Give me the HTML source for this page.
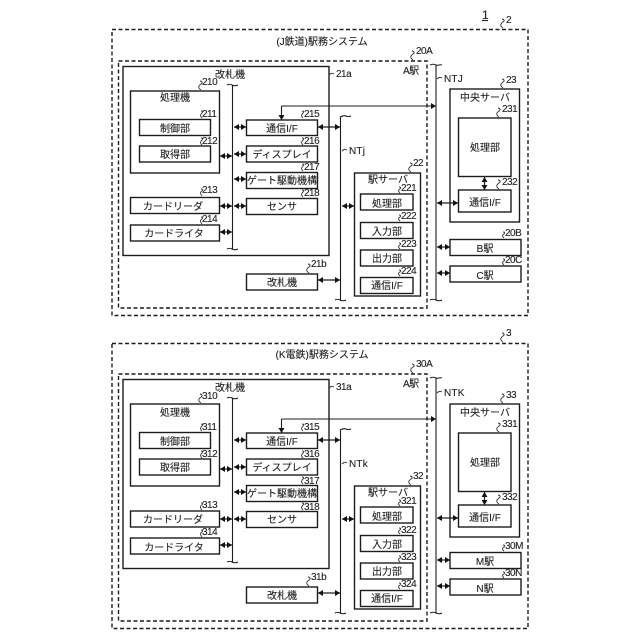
<!DOCTYPE html>
<html><head><meta charset="utf-8"><style>
html,body{margin:0;padding:0;background:#fff}
svg{display:block}
text{font-family:"Liberation Sans","Noto Sans CJK JP",sans-serif;fill:#222;stroke:#222;stroke-width:.12}
.b{fill:none;stroke:#1c1c1c;stroke-width:1.4}
.d{fill:none;stroke:#1c1c1c;stroke-width:1.4;stroke-dasharray:4 2.5}
.l{fill:none;stroke:#1c1c1c;stroke-width:1.1}
.a{fill:none;stroke:#1c1c1c;stroke-width:1.2;marker-start:url(#s);marker-end:url(#e)}
.t{font-size:10px;text-anchor:middle}
.n{font-size:10px;letter-spacing:-.5px}
.nt{font-size:10px;letter-spacing:.2px}
.q{fill:none;stroke:#333;stroke-width:.9}
</style></head><body>
<svg width="640" height="640" viewBox="0 0 640 640" xmlns="http://www.w3.org/2000/svg">
<defs>
<marker id="e" markerWidth="6" markerHeight="7" refX="5" refY="3.500" orient="auto" markerUnits="userSpaceOnUse"><path d="M0 0.500L5 3.500L0 6.500z" fill="#111"/></marker>
<marker id="s" markerWidth="6" markerHeight="7" refX="0.500" refY="3.500" orient="auto" markerUnits="userSpaceOnUse"><path d="M5.500 0.500L0.500 3.500L5.500 6.500z" fill="#111"/></marker>
<marker id="o" markerWidth="6" markerHeight="7" refX="5" refY="3.500" orient="auto" markerUnits="userSpaceOnUse"><path d="M0 0.500L5 3.500L0 6.500z" fill="#111"/></marker>
</defs>
<rect width="640" height="640" fill="#fff"/>
<text x="482" y="19" style="font-size:12px">1</text>
<path class="l" d="M482 20.500H488"/>

<g>
<path class="q" d="M503 28c-3-2-3-4 0-6c2-1 1-3-1-3"/><text class="n" x="506" y="23">2</text>
<rect class="d" x="112" y="29.500" width="416" height="286"/>
<text class="t" x="322" y="45">(J鉄道)駅務システム</text>
<rect class="d" x="118.500" y="61" width="308.500" height="247"/>
<path class="q" d="M413 60c-3-2-3-4 0-6c2-1 1-3-1-3"/><text class="n" x="416" y="54">20A</text>
<text class="n" x="403" y="74">A駅</text>
<rect class="b" x="123" y="66.500" width="206" height="189"/>
<path class="q" d="M329 75c2-2 3-2 5-1"/><text class="n" x="336" y="77">21a</text>
<text class="t" x="230" y="78">改札機</text>
<rect class="b" x="130.500" y="91" width="89" height="82"/>
<path class="q" d="M201 90c-3-2-3-4 0-6c2-1 1-3-1-3"/><text class="n" x="202" y="85">210</text>
<text class="t" x="175" y="101">処理機</text>
<rect class="b" x="139.500" y="119.500" width="71" height="16"/>
<text class="t" x="175" y="132">制御部</text>
<path class="q" d="M202 118c-2-2-2-3 0-5c1-1 1-2-1-2"/><text class="n" x="202" y="117">211</text>
<rect class="b" x="139.500" y="146" width="71" height="16"/>
<text class="t" x="175" y="158">取得部</text>
<path class="q" d="M202 145c-2-2-2-3 0-5c1-1 1-2-1-2"/><text class="n" x="202" y="144">212</text>
<rect class="b" x="130.500" y="197.500" width="89" height="16"/>
<text class="t" x="173" y="210">カードリーダ</text>
<path class="q" d="M202 196c-2-2-2-4 0-5c1-1 1-2-1-2"/><text class="n" x="202" y="193">213</text>
<rect class="b" x="130.500" y="225" width="89" height="16"/>
<text class="t" x="174" y="237">カードライタ</text>
<path class="q" d="M202 224c-2-2-2-4 0-5c1-1 1-2-1-2"/><text class="n" x="202" y="222">214</text>
<path class="l" d="M232.500 85V249M227 85c2-1 3-1 5 0s4 1 6 0M227 249c2-1 3-1 5 0s4 1 6 0"/>
<path class="a" d="M234 127H246"/><path class="a" d="M234 154H246"/><path class="a" d="M234 179H246"/><path class="a" d="M234 206H246"/>
<path class="a" d="M220 156H232"/><path class="a" d="M220 206H232"/><path class="a" d="M220 232H232"/>
<rect class="b" x="246.500" y="120" width="71" height="15.500"/>
<text class="t" x="282" y="132">通信I/F</text>
<path class="q" d="M303 118c-2-2-2-3 0-5c1-1 1-2-1-2"/><text class="n" x="304" y="117">215</text>
<rect class="b" x="246.500" y="146" width="71" height="16"/>
<text class="t" x="282" y="158">ディスプレイ</text>
<path class="q" d="M303 145c-2-2-2-3 0-5c1-1 1-2-1-2"/><text class="n" x="304" y="144">216</text>
<rect class="b" x="246.500" y="172.500" width="71" height="16"/>
<text class="t" x="282" y="184">ゲート駆動機構</text>
<path class="q" d="M303 171c-2-2-2-3 0-5c1-1 1-2-1-2"/><text class="n" x="304" y="170">217</text>
<rect class="b" x="246.500" y="198.500" width="71" height="16"/>
<text class="t" x="282" y="210">センサ</text>
<path class="q" d="M303 197c-2-2-2-3 0-5c1-1 1-2-1-2"/><text class="n" x="304" y="196">218</text>
<rect class="b" x="246.500" y="274" width="71" height="16"/>
<text class="t" x="282" y="286">改札機</text>
<path class="q" d="M309 273c-3-2-3-4 0-6c2-1 1-3-1-3"/><text class="n" x="311" y="267">21b</text>
<path class="l" d="M281.500 106H436" marker-end="url(#e)"/><path class="l" d="M281.500 106V120" marker-end="url(#o)"/>
<path class="a" d="M318 127H340"/><path class="a" d="M318 280H340"/>
<path class="l" d="M340.500 117V300M340 117c2-1 4-2 6-1s3 1 5 0M335 300c2-1 3-1 5 0s4 1 6 0"/>
<path class="q" d="M342 151c2-2 3-2 5-1"/><text class="nt" x="349" y="154">NTj</text>
<path class="a" d="M342 206H354"/>
<rect class="b" x="354.500" y="173" width="66" height="123"/>
<path class="q" d="M411 172c-3-2-3-4 0-6c2-1 1-3-1-3"/><text class="n" x="413" y="166">22</text>
<text class="t" x="388" y="183">駅サーバ</text>
<rect class="b" x="360.500" y="194" width="52.500" height="16"/><text class="t" x="387" y="207">処理部</text>
<path class="q" d="M400 193c-2-2-2-3 0-4c1-1 1-2-1-2"/><text class="n" x="401" y="191">221</text>
<rect class="b" x="360.500" y="222.500" width="52.500" height="16"/><text class="t" x="387" y="235">入力部</text>
<path class="q" d="M400 221c-2-2-2-3 0-4c1-1 1-2-1-2"/><text class="n" x="401" y="219">222</text>
<rect class="b" x="360.500" y="250" width="52.500" height="16"/><text class="t" x="387" y="262">出力部</text>
<path class="q" d="M400 249c-2-2-2-3 0-4c1-1 1-2-1-2"/><text class="n" x="401" y="247">223</text>
<rect class="b" x="360.500" y="277.500" width="52.500" height="16"/><text class="t" x="387" y="289">通信I/F</text>
<path class="q" d="M400 276c-2-2-2-3 0-4c1-1 1-2-1-2"/><text class="n" x="401" y="274">224</text>
<path class="l" d="M436 65V300M430 65c2-1 4-1 6 0s4-1 6 0M430 300c2-1 4-1 6 0s4 1 6 0"/>
<path class="q" d="M437 79c2-2 3-2 5-1"/><text class="nt" x="444" y="82">NTJ</text>
<rect class="b" x="450" y="89" width="69.500" height="133"/>
<path class="q" d="M503 88c-3-2-3-4 0-6c2-1 1-3-1-3"/><text class="n" x="506" y="83">23</text>
<text class="t" x="485" y="101">中央サーバ</text>
<rect class="b" x="458.500" y="118" width="52.500" height="58.500"/><text class="t" x="485" y="151">処理部</text>
<path class="q" d="M499 117c-3-2-3-4 0-6c2-1 1-3-1-3"/><text class="n" x="502" y="112">231</text>
<rect class="b" x="458.500" y="190" width="52.500" height="22"/><text class="t" x="485" y="206">通信I/F</text>
<path class="q" d="M499 189c-3-2-3-4 0-6c2-1 1-3-1-3"/><text class="n" x="502" y="185">232</text>
<path class="a" d="M484.500 177V190"/>
<path class="a" d="M437 203H458"/>
<rect class="b" x="450" y="239.500" width="71" height="16"/><text class="t" x="485" y="252">B駅</text>
<path class="q" d="M504 238c-2-2-2-3 0-4c1-1 1-2-1-2"/><text class="n" x="505" y="236">20B</text>
<rect class="b" x="450" y="266" width="71" height="16"/><text class="t" x="485" y="279">C駅</text>
<path class="q" d="M504 265c-2-2-2-3 0-4c1-1 1-2-1-2"/><text class="n" x="505" y="263">20C</text>
<path class="a" d="M437 247H450"/><path class="a" d="M437 273H450"/>
</g>

<g transform="translate(0,313)">
<path class="q" d="M503 29c-3-2-3-4 0-6c2-1 1-3-1-3"/><text class="n" x="506" y="23">3</text>
<rect class="d" x="112" y="30.500" width="416" height="285"/>
<text class="t" x="322" y="45">(K電鉄)駅務システム</text>
<rect class="d" x="118.500" y="61" width="308.500" height="247"/>
<path class="q" d="M413 60c-3-2-3-4 0-6c2-1 1-3-1-3"/><text class="n" x="416" y="54">30A</text>
<text class="n" x="403" y="74">A駅</text>
<rect class="b" x="123" y="66.500" width="206" height="189"/>
<path class="q" d="M329 75c2-2 3-2 5-1"/><text class="n" x="336" y="77">31a</text>
<text class="t" x="230" y="78">改札機</text>
<rect class="b" x="130.500" y="91" width="89" height="82"/>
<path class="q" d="M201 90c-3-2-3-4 0-6c2-1 1-3-1-3"/><text class="n" x="202" y="86">310</text>
<text class="t" x="175" y="103">処理機</text>
<rect class="b" x="139.500" y="119.500" width="71" height="16"/>
<text class="t" x="175" y="132">制御部</text>
<path class="q" d="M202 118c-2-2-2-3 0-5c1-1 1-2-1-2"/><text class="n" x="202" y="117">311</text>
<rect class="b" x="139.500" y="146" width="71" height="16"/>
<text class="t" x="175" y="158">取得部</text>
<path class="q" d="M202 145c-2-2-2-3 0-5c1-1 1-2-1-2"/><text class="n" x="202" y="144">312</text>
<rect class="b" x="130.500" y="198" width="89" height="16"/>
<text class="t" x="173" y="210">カードリーダ</text>
<path class="q" d="M202 197c-2-2-2-4 0-5c1-1 1-2-1-2"/><text class="n" x="202" y="195">313</text>
<rect class="b" x="130.500" y="225" width="89" height="16"/>
<text class="t" x="174" y="238">カードライタ</text>
<path class="q" d="M202 224c-2-2-2-4 0-5c1-1 1-2-1-2"/><text class="n" x="202" y="222">314</text>
<path class="l" d="M232.500 85V249M227 85c2-1 3-1 5 0s4 1 6 0M227 249c2-1 3-1 5 0s4 1 6 0"/>
<path class="a" d="M234 127H246"/><path class="a" d="M234 154H246"/><path class="a" d="M234 179H246"/><path class="a" d="M234 206H246"/>
<path class="a" d="M220 156H232"/><path class="a" d="M220 206H232"/><path class="a" d="M220 232H232"/>
<rect class="b" x="246.500" y="120" width="71" height="15.500"/>
<text class="t" x="282" y="132">通信I/F</text>
<path class="q" d="M303 118c-2-2-2-3 0-5c1-1 1-2-1-2"/><text class="n" x="304" y="117">315</text>
<rect class="b" x="246.500" y="146" width="71" height="16"/>
<text class="t" x="282" y="158">ディスプレイ</text>
<path class="q" d="M303 145c-2-2-2-3 0-5c1-1 1-2-1-2"/><text class="n" x="304" y="144">316</text>
<rect class="b" x="246.500" y="172.500" width="71" height="16"/>
<text class="t" x="282" y="184">ゲート駆動機構</text>
<path class="q" d="M303 171c-2-2-2-3 0-5c1-1 1-2-1-2"/><text class="n" x="304" y="171">317</text>
<rect class="b" x="246.500" y="198.500" width="71" height="16"/>
<text class="t" x="282" y="210">センサ</text>
<path class="q" d="M303 197c-2-2-2-3 0-5c1-1 1-2-1-2"/><text class="n" x="304" y="197">318</text>
<rect class="b" x="246.500" y="274" width="71" height="16"/>
<text class="t" x="282" y="286">改札機</text>
<path class="q" d="M309 273c-3-2-3-4 0-6c2-1 1-3-1-3"/><text class="n" x="311" y="267">31b</text>
<path class="l" d="M281.500 106H436" marker-end="url(#e)"/><path class="l" d="M281.500 106V120" marker-end="url(#o)"/>
<path class="a" d="M318 127H340"/><path class="a" d="M318 280H340"/>
<path class="l" d="M340.500 117V300M340 117c2-1 4-2 6-1s3 1 5 0M335 300c2-1 3-1 5 0s4 1 6 0"/>
<path class="q" d="M342 151c2-2 3-2 5-1"/><text class="nt" x="349" y="154">NTk</text>
<path class="a" d="M342 206H354"/>
<rect class="b" x="354.500" y="173" width="66" height="123"/>
<path class="q" d="M411 172c-3-2-3-4 0-6c2-1 1-3-1-3"/><text class="n" x="413" y="166">32</text>
<text class="t" x="388" y="183">駅サーバ</text>
<rect class="b" x="360.500" y="194" width="52.500" height="16"/><text class="t" x="387" y="207">処理部</text>
<path class="q" d="M400 193c-2-2-2-3 0-4c1-1 1-2-1-2"/><text class="n" x="401" y="191">321</text>
<rect class="b" x="360.500" y="222.500" width="52.500" height="16"/><text class="t" x="387" y="235">入力部</text>
<path class="q" d="M400 221c-2-2-2-3 0-4c1-1 1-2-1-2"/><text class="n" x="401" y="220">322</text>
<rect class="b" x="360.500" y="250" width="52.500" height="16"/><text class="t" x="387" y="262">出力部</text>
<path class="q" d="M400 249c-2-2-2-3 0-4c1-1 1-2-1-2"/><text class="n" x="401" y="247">323</text>
<rect class="b" x="360.500" y="277.500" width="52.500" height="16"/><text class="t" x="387" y="289">通信I/F</text>
<path class="q" d="M400 276c-2-2-2-3 0-4c1-1 1-2-1-2"/><text class="n" x="401" y="274">324</text>
<path class="l" d="M436 65V300M430 65c2-1 4-1 6 0s4-1 6 0M430 300c2-1 4-1 6 0s4 1 6 0"/>
<path class="q" d="M437 80c2-2 3-2 5-1"/><text class="nt" x="444" y="83">NTK</text>
<g transform="translate(0,2)">
<rect class="b" x="450" y="89" width="69.500" height="133"/>
<path class="q" d="M503 88c-3-2-3-4 0-6c2-1 1-3-1-3"/><text class="n" x="506" y="83">33</text>
<text class="t" x="485" y="101">中央サーバ</text>
<rect class="b" x="458.500" y="118" width="52.500" height="58.500"/><text class="t" x="485" y="151">処理部</text>
<path class="q" d="M499 117c-3-2-3-4 0-6c2-1 1-3-1-3"/><text class="n" x="502" y="112">331</text>
<rect class="b" x="458.500" y="190" width="52.500" height="22"/><text class="t" x="485" y="206">通信I/F</text>
<path class="q" d="M499 189c-3-2-3-4 0-6c2-1 1-3-1-3"/><text class="n" x="502" y="185">332</text>
<path class="a" d="M484.500 177V190"/>
<path class="a" d="M437 203H458"/>
</g>
<rect class="b" x="450" y="239.500" width="71" height="16"/><text class="t" x="485" y="252">M駅</text>
<path class="q" d="M504 238c-2-2-2-3 0-4c1-1 1-2-1-2"/><text class="n" x="505" y="236">30M</text>
<rect class="b" x="450" y="266" width="71" height="16"/><text class="t" x="485" y="279">N駅</text>
<path class="q" d="M504 265c-2-2-2-3 0-4c1-1 1-2-1-2"/><text class="n" x="505" y="263">30N</text>
<path class="a" d="M437 247H450"/><path class="a" d="M437 273H450"/>
</g>
</svg>
</body></html>
